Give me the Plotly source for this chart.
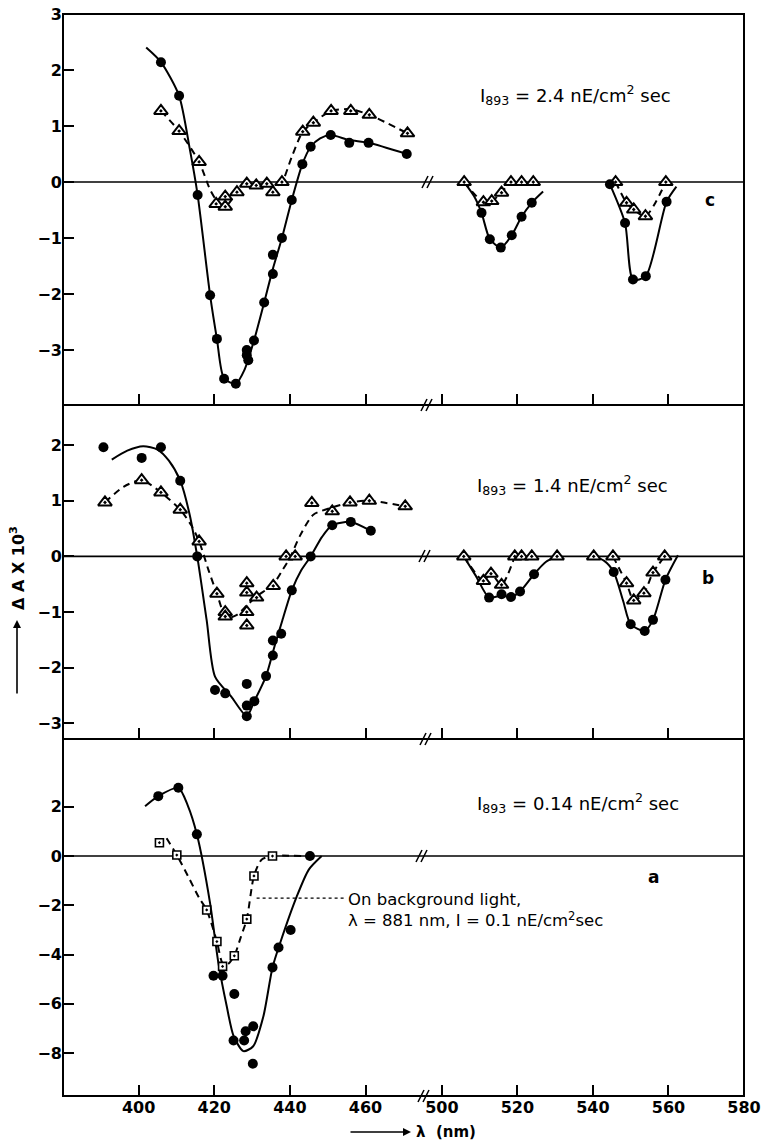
import plotly.graph_objects as go

# ---------------- data ----------------
x_ticks_left = [400, 420, 440, 460]
x_ticks_right = [500, 520, 540, 560, 580]
y_ticks_c = [3, 2, 1, 0, -1, -2, -3]
y_ticks_b = [2, 1, 0, -1, -2, -3]
y_ticks_a = [2, 0, -2, -4, -6, -8]

panel_texts = ["I<sub>893</sub> = 2.4 nE/cm<sup>2</sup> sec",
               "I<sub>893</sub> = 1.4 nE/cm<sup>2</sup> sec",
               "I<sub>893</sub> = 0.14 nE/cm<sup>2</sup> sec"]
panel_letters = ["c", "b", "a"]
note_text = "On background light,<br>λ = 881 nm, I = 0.1 nE/cm<sup>2</sup>sec"

# ----- panel c  (I893 = 2.4) -----
c_dot_nm_L = [405.9, 410.7, 415.6, 418.9, 420.7, 422.6, 425.7, 428.6, 428.6, 429.0, 430.5, 433.2,
              435.5, 435.5, 437.9, 440.5, 443.3, 445.5, 450.8, 455.7, 460.8, 470.9]
c_dot_val_L = [2.14, 1.54, -0.23, -2.02, -2.80, -3.51, -3.60, -3.00, -3.09, -3.18, -2.83, -2.15,
               -1.64, -1.30, -1.00, -0.32, 0.32, 0.63, 0.84, 0.70, 0.70, 0.50]
c_tri_nm_L = [405.9, 410.7, 416.0, 420.5, 422.9, 422.9, 426.0, 428.6, 431.1, 433.9, 435.5, 437.9,
              443.4, 446.2, 450.9, 456.1, 461.0, 471.1]
c_tri_val_L = [1.27, 0.91, 0.36, -0.39, -0.26, -0.44, -0.18, -0.03, -0.06, -0.03, -0.18, 0.0,
               0.90, 1.06, 1.27, 1.27, 1.20, 0.87]
c_dot_nm_R = [510.5, 512.7, 515.6, 518.5, 521.1, 523.8, 544.5, 548.5, 550.6, 554.0, 559.5]
c_dot_val_R = [-0.55, -1.02, -1.17, -0.95, -0.62, -0.37, -0.04, -0.73, -1.74, -1.68, -0.35]
c_tri_nm_R = [505.9, 511.0, 513.2, 515.8, 518.3, 521.1, 524.2, 546.0, 548.9, 550.8, 553.9, 559.3]
c_tri_val_R = [0.0, -0.36, -0.34, -0.19, 0.0, 0.0, 0.0, 0.0, -0.37, -0.49, -0.61, 0.0]

c_fit_solid_L_nm = [402.0, 405.9, 410.7, 413.5, 415.6, 418.9, 420.7, 422.6, 425.7, 428.0, 430.5,
                    433.2, 435.5, 437.9, 440.5, 443.3, 445.5, 448.0, 450.8, 455.7, 460.8, 470.9]
c_fit_solid_L_val = [2.40, 2.14, 1.54, 0.60, -0.23, -2.02, -2.80, -3.51, -3.60, -3.35, -2.83,
                     -2.15, -1.55, -1.00, -0.32, 0.32, 0.63, 0.78, 0.84, 0.75, 0.70, 0.50]
c_fit_dash_L_nm = [405.9, 410.7, 416.0, 419.0, 421.5, 423.5, 426.0, 428.6, 431.1, 433.9, 436.0,
                   437.9, 440.5, 443.4, 446.2, 450.9, 456.1, 461.0, 471.1]
c_fit_dash_L_val = [1.27, 0.91, 0.36, -0.15, -0.40, -0.40, -0.18, -0.03, -0.05, -0.03, -0.08,
                    0.0, 0.45, 0.90, 1.06, 1.27, 1.30, 1.20, 0.87]
c_fit_solid_R1_nm = [505.9, 508.5, 510.5, 512.7, 515.6, 518.5, 521.1, 523.8, 526.8]
c_fit_solid_R1_val = [0.0, -0.25, -0.55, -1.02, -1.17, -0.95, -0.62, -0.37, -0.17]
c_fit_dash_R1_nm = [505.9, 511.0, 513.2, 515.8, 518.3, 524.2]
c_fit_dash_R1_val = [0.0, -0.36, -0.34, -0.19, 0.0, 0.0]
c_fit_solid_R2_nm = [544.5, 548.5, 550.6, 554.0, 559.5, 562.1]
c_fit_solid_R2_val = [-0.04, -0.73, -1.74, -1.68, -0.35, -0.08]
c_fit_dash_R2_nm = [546.0, 548.9, 550.8, 553.9, 559.3]
c_fit_dash_R2_val = [0.0, -0.37, -0.49, -0.61, 0.0]

# ----- panel b  (I893 = 1.4) -----
b_dot_nm_L = [390.7, 400.8, 405.9, 411.0, 415.5, 420.2, 422.9, 428.6, 428.6, 428.6, 430.6, 433.7,
              435.5, 435.5, 437.7, 440.5, 445.5, 451.2, 456.1, 461.4]
b_dot_val_L = [1.96, 1.77, 1.96, 1.36, 0.0, -2.40, -2.46, -2.29, -2.68, -2.87, -2.60, -2.15,
               -1.78, -1.51, -1.39, -0.61, 0.0, 0.56, 0.62, 0.46]
b_tri_nm_L = [391.1, 400.8, 405.9, 411.0, 416.0, 420.7, 422.9, 422.9, 428.6, 428.6, 428.6, 428.6,
              431.2, 435.6, 439.0, 441.4, 445.8, 451.2, 455.9, 461.0, 470.5]
b_tri_val_L = [0.97, 1.37, 1.15, 0.84, 0.27, -0.67, -1.00, -1.08, -0.48, -0.65, -1.00, -1.24,
               -0.74, -0.53, 0.0, 0.0, 0.96, 0.81, 0.97, 1.00, 0.90]
b_dot_nm_R = [512.5, 515.8, 518.3, 520.7, 524.4, 545.5, 550.0, 553.7, 555.9, 559.2]
b_dot_val_R = [-0.74, -0.68, -0.73, -0.63, -0.32, -0.28, -1.22, -1.34, -1.14, -0.42]
b_tri_nm_R = [505.8, 511.0, 513.0, 515.8, 519.3, 521.1, 523.8, 530.5, 540.2, 545.3, 548.9, 550.8,
              553.5, 555.9, 559.0]
b_tri_val_R = [0.0, -0.44, -0.31, -0.51, 0.0, 0.0, 0.0, 0.0, 0.0, 0.0, -0.48, -0.79,
               -0.66, -0.29, 0.0]

b_fit_solid_L_nm = [392.9, 397.0, 401.2, 405.0, 408.0, 411.0, 413.5, 415.5, 418.0, 420.2, 424.5,
                    428.6, 430.6, 433.7, 436.0, 438.0, 440.5, 443.0, 445.5, 448.5, 451.2, 456.1, 461.4]
b_fit_solid_L_val = [1.74, 1.90, 1.98, 1.92, 1.72, 1.36, 0.75, 0.00, -1.15, -2.16, -2.52,
                     -2.87, -2.60, -2.15, -1.60, -1.15, -0.61, -0.25, 0.00, 0.35, 0.56, 0.62, 0.46]
b_fit_dash_L_nm = [391.1, 396.0, 400.8, 405.9, 411.0, 414.0, 416.0, 418.5, 420.7, 423.2, 426.0,
                   428.6, 431.2, 435.6, 438.0, 440.2, 442.5, 446.2, 451.2, 455.9, 461.0, 470.5]
b_fit_dash_L_val = [0.97, 1.25, 1.37, 1.15, 0.84, 0.55, 0.27, -0.25, -0.67, -1.10, -1.05,
                    -0.88, -0.72, -0.50, -0.25, 0.00, 0.35, 0.75, 0.88, 0.97, 1.00, 0.90]
b_fit_solid_R1_nm = [505.8, 509.0, 512.5, 515.8, 518.3, 520.7, 524.4, 527.5, 530.5]
b_fit_solid_R1_val = [0.0, -0.35, -0.74, -0.70, -0.73, -0.63, -0.32, -0.10, 0.0]
b_fit_dash_R1_nm = [505.8, 511.0, 513.0, 515.8, 519.3]
b_fit_dash_R1_val = [0.0, -0.44, -0.31, -0.51, 0.0]
b_fit_solid_R2_nm = [540.2, 543.0, 545.5, 548.0, 550.0, 553.7, 555.9, 559.2, 562.5]
b_fit_solid_R2_val = [0.0, -0.08, -0.28, -0.80, -1.22, -1.34, -1.14, -0.42, 0.02]
b_fit_dash_R2_nm = [545.3, 548.9, 550.8, 553.5, 555.9, 559.0]
b_fit_dash_R2_val = [0.0, -0.48, -0.79, -0.66, -0.29, 0.0]

# ----- panel a  (I893 = 0.14) -----
a_dot_nm = [405.2, 410.5, 415.4, 419.8, 422.2, 425.3, 425.1, 427.9, 428.3, 430.3, 430.2, 435.4,
            437.0, 440.2, 445.3]
a_dot_val = [2.43, 2.77, 0.88, -4.86, -4.86, -5.60, -7.49, -7.49, -7.11, -6.91, -8.43, -4.52,
             -3.71, -3.00, 0.0]
a_sq_nm = [405.5, 410.1, 418.0, 420.7, 422.2, 425.3, 428.6, 430.5, 435.4]
a_sq_val = [0.54, 0.04, -2.19, -3.47, -4.48, -4.05, -2.56, -0.81, 0.0]
a_fit_solid_nm = [401.7, 405.2, 410.5, 413.0, 415.4, 418.9, 421.1, 423.3, 425.1, 427.7, 430.3,
                  433.0, 435.4, 437.4, 441.8, 445.0, 448.4]
a_fit_solid_val = [2.02, 2.43, 2.77, 2.05, 0.88, -1.92, -4.35, -6.10, -7.30, -7.92, -7.72,
                   -6.50, -4.52, -3.54, -1.65, -0.55, 0.0]
a_fit_dash_nm = [407.4, 410.1, 413.0, 416.0, 418.0, 420.7, 422.2, 423.5, 425.3, 427.0, 428.6,
                 430.5, 432.5, 435.4, 443.0]
a_fit_dash_val = [0.72, 0.04, -0.80, -1.70, -2.19, -3.47, -4.35, -4.40, -4.05, -3.30, -2.56,
                  -0.81, -0.15, 0.0, 0.0]
a_note_nm = [431.2, 454.6]
a_note_val = [-1.71, -1.71]

# ---------------- layout geometry ----------------
W, H = 762, 1144
ML, MR, MT, MB = 63, 18, 14, 48
PW, PH = W - ML - MR, H - MT - MB


def px(x):
    return (x - ML) / PW


def py(y):
    return (H - MB - y) / PH


split = px(423)
row_dom = {"c": [py(405), 1.0], "b": [py(739), py(405)], "a": [0.0, py(739)]}
y_rng = {"c": [-3.98, 3.0], "b": [-3.28, 2.72], "a": [-9.74, 4.75]}
x_rng_L = [380.0, 475.2]
x_rng_R = [495.0, 580.0]

# axis ids per panel: (xLeft, xRight, y)
ax_ids = {"a": ("x", "x2", "y"), "b": ("x3", "x4", "y2"), "c": ("x5", "x6", "y3")}

TICKFONT = dict(family="DejaVu Sans", size=16, color="black", weight="bold")
TXTFONT = dict(family="DejaVu Sans", size=18, color="black")
NOTEFONT = dict(family="DejaVu Sans", size=16.5, color="black")

fig = go.Figure()


def add_line(xs, ys, xa, ya, dash):
    fig.add_trace(go.Scatter(x=xs, y=ys, xaxis=xa, yaxis=ya, mode="lines",
                             line=dict(color="black", width=2, dash=dash, shape="spline", smoothing=0.7),
                             hoverinfo="skip", showlegend=False))


def add_marks(xs, ys, xa, ya, kind):
    if kind == "dot":
        m = dict(symbol="circle", size=10, color="black")
    elif kind == "tri":
        m = dict(symbol="triangle-up-dot", size=12, color="white", line=dict(color="black", width=2))
    else:
        m = dict(symbol="square-dot", size=8, color="white", line=dict(color="black", width=1.6))
    fig.add_trace(go.Scatter(x=xs, y=ys, xaxis=xa, yaxis=ya, mode="markers", marker=m,
                             hoverinfo="skip", showlegend=False))


DASH = "7px,5px"
# panel c
xl, xr, yy = ax_ids["c"]
add_line(c_fit_solid_L_nm, c_fit_solid_L_val, xl, yy, "solid")
add_line(c_fit_dash_L_nm, c_fit_dash_L_val, xl, yy, DASH)
add_line(c_fit_solid_R1_nm, c_fit_solid_R1_val, xr, yy, "solid")
add_line(c_fit_dash_R1_nm, c_fit_dash_R1_val, xr, yy, DASH)
add_line(c_fit_solid_R2_nm, c_fit_solid_R2_val, xr, yy, "solid")
add_line(c_fit_dash_R2_nm, c_fit_dash_R2_val, xr, yy, DASH)
add_marks(c_tri_nm_L, c_tri_val_L, xl, yy, "tri")
add_marks(c_dot_nm_L, c_dot_val_L, xl, yy, "dot")
add_marks(c_tri_nm_R, c_tri_val_R, xr, yy, "tri")
add_marks(c_dot_nm_R, c_dot_val_R, xr, yy, "dot")
# panel b
xl, xr, yy = ax_ids["b"]
add_line(b_fit_solid_L_nm, b_fit_solid_L_val, xl, yy, "solid")
add_line(b_fit_dash_L_nm, b_fit_dash_L_val, xl, yy, DASH)
add_line(b_fit_solid_R1_nm, b_fit_solid_R1_val, xr, yy, "solid")
add_line(b_fit_dash_R1_nm, b_fit_dash_R1_val, xr, yy, DASH)
add_line(b_fit_solid_R2_nm, b_fit_solid_R2_val, xr, yy, "solid")
add_line(b_fit_dash_R2_nm, b_fit_dash_R2_val, xr, yy, DASH)
add_marks(b_tri_nm_L, b_tri_val_L, xl, yy, "tri")
add_marks(b_dot_nm_L, b_dot_val_L, xl, yy, "dot")
add_marks(b_tri_nm_R, b_tri_val_R, xr, yy, "tri")
add_marks(b_dot_nm_R, b_dot_val_R, xr, yy, "dot")
# panel a
xl, xr, yy = ax_ids["a"]
add_line(a_fit_solid_nm, a_fit_solid_val, xl, yy, "solid")
add_line(a_fit_dash_nm, a_fit_dash_val, xl, yy, DASH)
fig.add_trace(go.Scatter(x=a_note_nm, y=a_note_val, xaxis=xl, yaxis=yy, mode="lines",
                         line=dict(color="black", width=1.3, dash="dot"),
                         hoverinfo="skip", showlegend=False))
add_marks(a_sq_nm, a_sq_val, xl, yy, "sq")
add_marks(a_dot_nm, a_dot_val, xl, yy, "dot")
# empty trace so the lower-right axis (with its tick labels) is drawn
fig.add_trace(go.Scatter(x=[], y=[], xaxis=xr, yaxis=yy, mode="markers",
                         hoverinfo="skip", showlegend=False))

# ---------------- axes ----------------
layout = {}
for key, yt in (("a", y_ticks_a), ("b", y_ticks_b), ("c", y_ticks_c)):
    xl, xr, yy = ax_ids[key]
    show_lbl = key == "a"
    base_x = dict(ticks="inside", ticklen=11, tickwidth=2, tickcolor="black",
                  showgrid=False, zeroline=False, showline=False, automargin=False,
                  showticklabels=show_lbl, tickfont=TICKFONT, anchor=yy)
    layout["xaxis" + xl[1:]] = dict(base_x, domain=[0, split], range=x_rng_L,
                                    tickmode="array", tickvals=x_ticks_left)
    layout["xaxis" + xr[1:]] = dict(base_x, domain=[split, 1], range=x_rng_R,
                                    tickmode="array", tickvals=x_ticks_right)
    layout["yaxis" + yy[1:]] = dict(domain=row_dom[key], range=y_rng[key], anchor=xl,
                                    ticks="inside", ticklen=11, tickwidth=2, tickcolor="black",
                                    tickmode="array", tickvals=yt,
                                    ticktext=[str(v).replace("-", "\u2212") for v in yt],
                                    showgrid=False, zeroline=False, showline=False, automargin=False,
                                    tickfont=TICKFONT)

shapes = []
LW = 2
# frame
shapes.append(dict(type="rect", xref="paper", yref="paper", x0=0, x1=1, y0=0, y1=1,
                   line=dict(color="black", width=LW)))
for yb in (405, 739):
    shapes.append(dict(type="line", xref="paper", yref="paper", x0=0, x1=1, y0=py(yb), y1=py(yb),
                       line=dict(color="black", width=LW)))
# zero lines
for key in ("a", "b", "c"):
    yy = ax_ids[key][2]
    shapes.append(dict(type="line", xref="paper", yref=yy, x0=0, x1=1, y0=0, y1=0,
                       line=dict(color="black", width=1.6), layer="below"))


# break marks "//"
def brk(cx, cy):
    out = []
    for dx in (-3, 2):
        out.append(dict(type="line", xref="paper", yref="paper",
                        x0=px(cx + dx - 3), y0=py(cy + 6), x1=px(cx + dx + 3), y1=py(cy - 6),
                        line=dict(color="black", width=1.6)))
    return out


for (cx, cy) in ((424, 1096), (426, 739), (427, 405), (428, 182), (425, 556), (422, 856)):
    shapes += brk(cx, cy)

annotations = []
for txt, (x0, y0) in zip(panel_texts, ((478, 95), (475, 485), (475, 803))):
    annotations.append(dict(text=txt, xref="paper", yref="paper", x=px(x0), y=py(y0),
                            xanchor="left", yanchor="middle", showarrow=False, font=TXTFONT))
for lt, (x0, y0) in zip(panel_letters, ((710, 200), (708, 578), (653, 877))):
    annotations.append(dict(text=lt, xref="paper", yref="paper", x=px(x0), y=py(y0),
                            xanchor="center", yanchor="middle", showarrow=False,
                            font=dict(TXTFONT, size=17, weight="bold")))
annotations.append(dict(text=note_text, xref="paper", yref="paper", x=px(346), y=py(888),
                        xanchor="left", yanchor="top", align="left", showarrow=False, font=NOTEFONT))
# axis titles with arrows
annotations.append(dict(text="Δ A X 10<sup>3</sup>", xref="paper", yref="paper", x=px(17), y=py(568),
                        textangle=-90, xanchor="center", yanchor="middle", showarrow=False,
                        font=dict(TXTFONT, size=16, weight="bold")))
annotations.append(dict(text="", xref="paper", yref="paper", x=px(17), y=py(620), ax=0, ay=75,
                        showarrow=True, arrowhead=2, arrowsize=1, arrowwidth=1.6, arrowcolor="black"))
annotations.append(dict(text="λ  (nm)", xref="paper", yref="paper", x=px(414), y=py(1132),
                        xanchor="left", yanchor="middle", showarrow=False,
                        font=dict(TXTFONT, size=15, weight="bold")))
annotations.append(dict(text="", xref="paper", yref="paper", x=px(411), y=py(1132), ax=-62, ay=0,
                        showarrow=True, arrowhead=2, arrowsize=1, arrowwidth=1.6, arrowcolor="black"))

fig.update_layout(width=W, height=H,
                  margin=dict(l=ML, r=MR, t=MT, b=MB, autoexpand=False),
                  paper_bgcolor="white", plot_bgcolor="white",
                  shapes=shapes, annotations=annotations, showlegend=False, **layout)

fig.write_html("out.html")
